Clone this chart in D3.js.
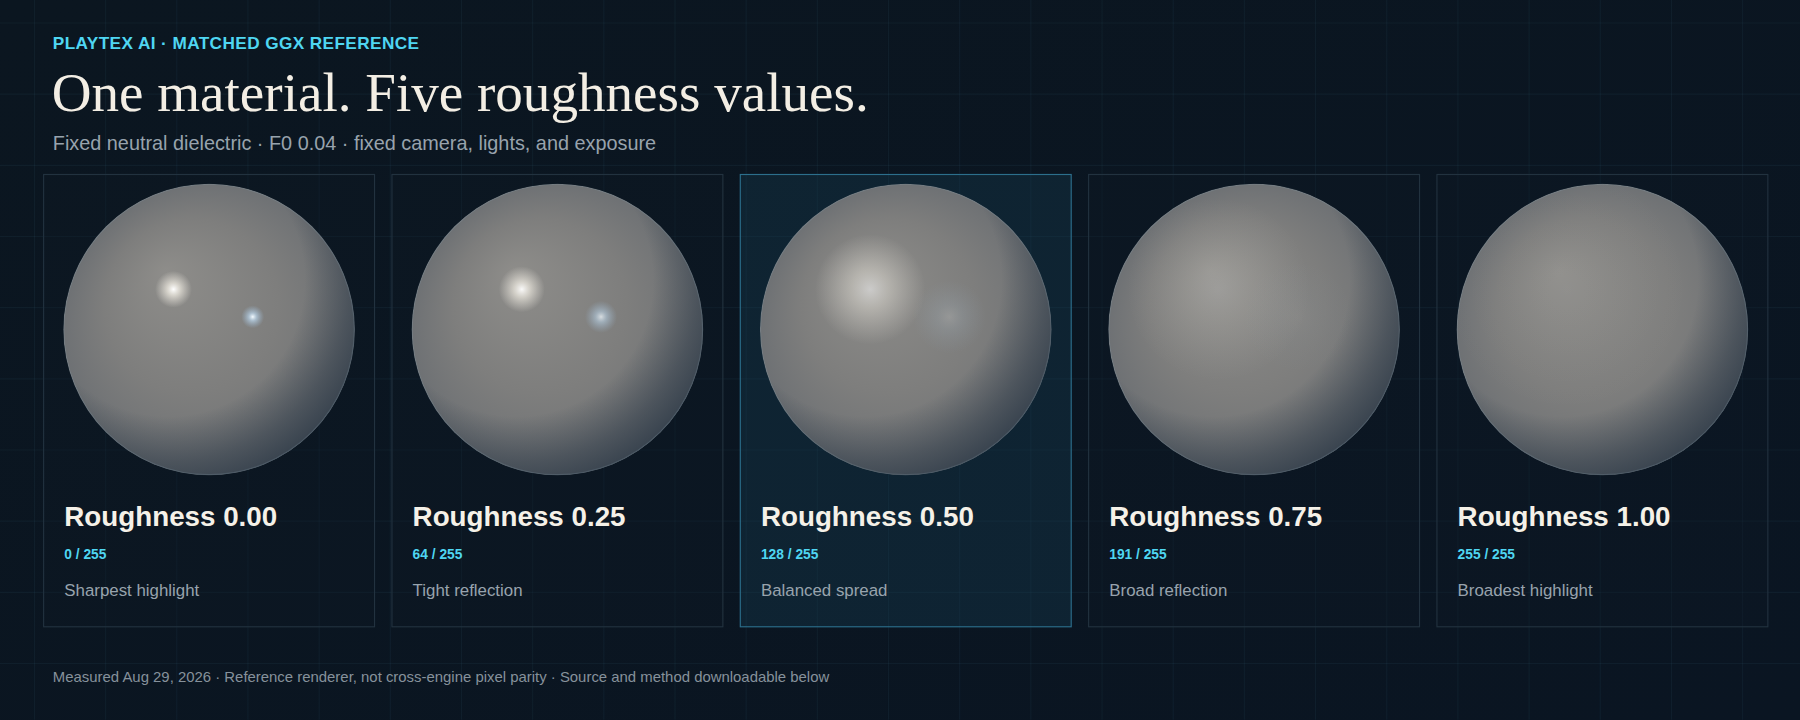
<!DOCTYPE html>
<html>
<head>
<meta charset="utf-8">
<script src="https://cdn.jsdelivr.net/npm/d3@7"></script>
<style>
  html, body { margin: 0; padding: 0; background: #0a141e; }
  svg { display: block; }
</style>
</head>
<body>
<svg id="chart" width="1800" height="720"></svg>
<script>
// Data for the five spheres
var roughness = [0.00, 0.25, 0.50, 0.75, 1.00];
var codes = ["0 / 255", "64 / 255", "128 / 255", "191 / 255", "255 / 255"];
var notes = ["Sharpest highlight", "Tight reflection", "Balanced spread", "Broad reflection", "Broadest highlight"];
var featured = 0.50;

var W = 1568, H = 627, k = 1800 / W;
var svg = d3.select("#chart");
var defs = svg.append("defs");

// background
var bg = defs.append("linearGradient").attr("id", "bg").attr("x1", 0).attr("y1", 0).attr("x2", 1).attr("y2", 1);
bg.append("stop").attr("offset", 0).attr("stop-color", "#0b1620");
bg.append("stop").attr("offset", 1).attr("stop-color", "#0a1522");
svg.append("rect").attr("width", 1800).attr("height", 720).attr("fill", "url(#bg)");

var root = svg.append("g").attr("transform", "scale(" + k + ")");

// faint grid
var grid = root.append("g").attr("stroke", "rgba(90,150,180,0.07)").attr("stroke-width", 1);
d3.range(0, W, 62).forEach(function(x) { grid.append("line").attr("x1", x + 30).attr("x2", x + 30).attr("y1", 0).attr("y2", H); });
d3.range(0, H, 62).forEach(function(y) { grid.append("line").attr("y1", y + 20).attr("y2", y + 20).attr("x1", 0).attr("x2", W); });

// header
root.append("text").attr("x", 46).attr("y", 43).text("PLAYTEX AI · MATCHED GGX REFERENCE")
  .attr("font-family", "Liberation Sans, Arial, sans-serif").attr("font-weight", "bold").attr("font-size", 15)
  .attr("fill", "#4fd6f2").attr("letter-spacing", 0.35);
root.append("text").attr("x", 45).attr("y", 97).text("One material. Five roughness values.")
  .attr("font-family", "Liberation Serif, Times New Roman, serif").attr("font-size", 48)
  .attr("fill", "#f3eee4");
root.append("text").attr("x", 46).attr("y", 131).text("Fixed neutral dielectric · F0 0.04 · fixed camera, lights, and exposure")
  .attr("font-family", "Liberation Sans, Arial, sans-serif").attr("font-size", 17.3).attr("fill", "#98a3ad");

// sphere gradients
var base = defs.append("radialGradient").attr("id", "sphereBase")
  .attr("cx", 0.5).attr("cy", 0.5).attr("r", 0.5).attr("fx", 0.35).attr("fy", 0.3);
base.append("stop").attr("offset", 0).attr("stop-color", "#8e8d8a");
base.append("stop").attr("offset", 0.6).attr("stop-color", "#7e7e7d");
base.append("stop").attr("offset", 1).attr("stop-color", "#6e7174");

var rim = defs.append("radialGradient").attr("id", "sphereRim")
  .attr("cx", 0.36).attr("cy", 0.33).attr("r", 0.78);
rim.append("stop").attr("offset", 0.6).attr("stop-color", "#2f3b48").attr("stop-opacity", 0);
rim.append("stop").attr("offset", 0.8).attr("stop-color", "#2f3b48").attr("stop-opacity", 0.55);
rim.append("stop").attr("offset", 0.93).attr("stop-color", "#2f3b48").attr("stop-opacity", 0.85);

var hlW = defs.append("radialGradient").attr("id", "hlWarm");
hlW.append("stop").attr("offset", 0).attr("stop-color", "#ffffff").attr("stop-opacity", 1);
hlW.append("stop").attr("offset", 0.35).attr("stop-color", "#f4f0e6").attr("stop-opacity", 0.7);
hlW.append("stop").attr("offset", 1).attr("stop-color", "#e8e4dc").attr("stop-opacity", 0);
var hlC = defs.append("radialGradient").attr("id", "hlCool");
hlC.append("stop").attr("offset", 0).attr("stop-color", "#f4fbff").attr("stop-opacity", 1);
hlC.append("stop").attr("offset", 0.35).attr("stop-color", "#b9d4ea").attr("stop-opacity", 0.7);
hlC.append("stop").attr("offset", 1).attr("stop-color", "#9ab8d4").attr("stop-opacity", 0);

// card layout
var x = d3.scaleBand().domain(roughness).range([38, 1540]).paddingInner(0.05);
var glowR = d3.scaleLinear().domain([0, 0.25, 0.5, 0.75, 1]).range([16, 20, 48, 80, 110]);
var glowO = d3.scaleLinear().domain([0, 0.25, 0.5, 0.75, 1]).range([1, 0.95, 0.55, 0.15, 0.04]);
var coolR = d3.scaleLinear().domain([0, 0.25, 0.5, 0.75, 1]).range([10, 14, 32, 50, 60]);
var coolO = d3.scaleLinear().domain([0, 0.25, 0.5, 0.75, 1]).range([1, 0.75, 0.18, 0.04, 0]);

var cards = root.selectAll("g.card").data(roughness).enter().append("g")
  .attr("class", "card").attr("transform", function(d) { return "translate(" + x(d) + ",152)"; });

cards.append("rect").attr("width", x.bandwidth()).attr("height", 394)
  .attr("fill", function(d) { return d === featured ? "rgba(22,62,84,0.35)" : "rgba(14,26,38,0.35)"; })
  .attr("stroke", function(d) { return d === featured ? "#2c6f8c" : "#22323f"; })
  .attr("stroke-width", 1);

var cx = x.bandwidth() / 2, cy = 135, R = 127;
cards.each(function(d, i) {
  var g = d3.select(this);
  var clipId = "clip" + i;
  defs.append("clipPath").attr("id", clipId).append("circle").attr("cx", cx).attr("cy", cy).attr("r", R);
  var s = g.append("g").attr("clip-path", "url(#" + clipId + ")");
  s.append("circle").attr("cx", cx).attr("cy", cy).attr("r", R).attr("fill", "url(#sphereBase)");
  s.append("circle").attr("cx", cx).attr("cy", cy).attr("r", R).attr("fill", "url(#sphereRim)");
  s.append("circle").attr("cx", cx - 31).attr("cy", cy - 35).attr("r", glowR(d))
    .attr("fill", "url(#hlWarm)").attr("opacity", glowO(d));
  s.append("circle").attr("cx", cx + 38).attr("cy", cy - 11).attr("r", coolR(d))
    .attr("fill", "url(#hlCool)").attr("opacity", coolO(d));
  g.append("circle").attr("cx", cx).attr("cy", cy).attr("r", R - 0.5).attr("fill", "none")
    .attr("stroke", "rgba(150,175,195,0.18)").attr("stroke-width", 1);
});

cards.append("text").attr("x", 18).attr("y", 306).text(function(d) { return "Roughness " + d.toFixed(2); })
  .attr("font-family", "Liberation Sans, Arial, sans-serif").attr("font-weight", "bold").attr("font-size", 24.2)
  .attr("fill", "#f5f1e8");
cards.append("text").attr("x", 18).attr("y", 335).text(function(d, i) { return codes[i]; })
  .attr("font-family", "Liberation Sans, Arial, sans-serif").attr("font-weight", "bold").attr("font-size", 12)
  .attr("fill", "#4fd6f2");
cards.append("text").attr("x", 18).attr("y", 367).text(function(d, i) { return notes[i]; })
  .attr("font-family", "Liberation Sans, Arial, sans-serif").attr("font-size", 14.7)
  .attr("fill", "#98a3ad");

// footer
root.append("text").attr("x", 46).attr("y", 594)
  .text("Measured Aug 29, 2026 · Reference renderer, not cross-engine pixel parity · Source and method downloadable below")
  .attr("font-family", "Liberation Sans, Arial, sans-serif").attr("font-size", 13).attr("fill", "#86919b");
</script>
</body>
</html>
